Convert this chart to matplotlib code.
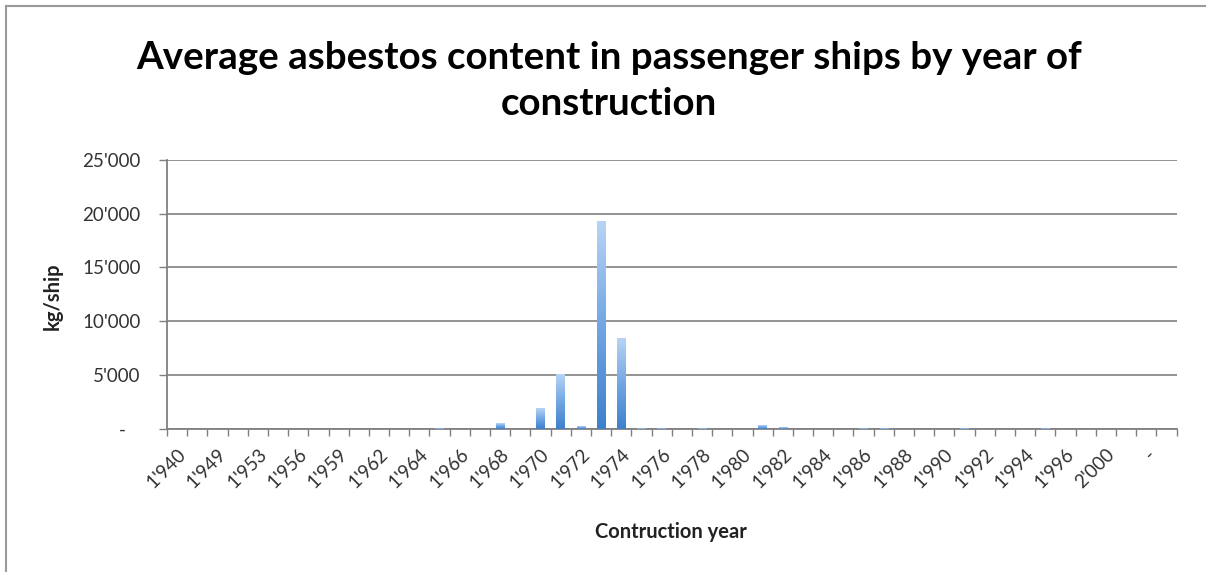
import numpy as np
import matplotlib
matplotlib.use("Agg")
import matplotlib.pyplot as plt
from matplotlib.colors import LinearSegmentedColormap
from matplotlib.lines import Line2D
from matplotlib.ticker import FuncFormatter, MultipleLocator

# Construction years (None = year unknown, shown as "-")
years = [1940, 1948, 1949, 1951, 1953, 1955, 1956, 1957, 1959, 1960, 1962, 1963,
         1964, 1965, 1966, 1967, 1968, 1969, 1970, 1971, 1972, 1973, 1974, 1975,
         1976, 1977, 1978, 1979, 1980, 1981, 1982, 1983, 1984, 1985, 1986, 1987,
         1988, 1989, 1990, 1991, 1992, 1993, 1994, 1995, 1996, 1998, 2000, 2002,
         None, ""]

# Average asbestos content, kg per ship
kg_per_ship = [0, 0, 0, 0, 0, 0, 0, 0, 0, 0, 0, 0,
               0, 50, 0, 0, 500, 0, 1900, 5050, 250, 19300, 8400, 50,
               80, 0, 60, 0, 0, 300, 100, 0, 0, 0, 80, 60,
               0, 0, 0, 70, 0, 0, 0, 60, 0, 0, 0, 0,
               0, 0]

title = "Average asbestos content in passenger ships by year of\nconstruction"
y_label = "kg/ship"
x_label = "Contruction year"


def thousands(v):
    if v is None:
        return "-"
    if v == "":
        return ""
    if v == 0:
        return "-   "
    return f"{int(v):,}".replace(",", "'")


W, H = 1206, 572
fig = plt.figure(figsize=(W / 100, H / 100), dpi=100)
font = ["Lato", "DejaVu Sans"]
plt.rcParams["font.family"] = font

ax = fig.add_axes([167 / W, 1 - 428.5 / H, (1176.5 - 167) / W, (428.5 - 160) / H])

n = len(years)
x = np.arange(n)
bars = ax.bar(x, kg_per_ship, width=0.42, color="none", edgecolor="none", zorder=3)

# vertical gradient fill for each bar: light top, deeper blue at the base
cmap = LinearSegmentedColormap.from_list("bar_grad", ["#3d80cc", "#72a6e3", "#b8d4f5"])
grad = np.linspace(0, 1, 256).reshape(-1, 1)
for b in bars:
    h = b.get_height()
    if h <= 0:
        continue
    x0 = b.get_x()
    im = ax.imshow(grad, extent=[x0, x0 + b.get_width(), 0, h], origin="lower",
                   aspect="auto", cmap=cmap, zorder=3, interpolation="bilinear")
    im.set_clip_path(b)

ax.set_xlim(-0.5, n - 0.5)
ax.set_ylim(0, 25000)
ax.set_aspect("auto")

# y axis
ax.yaxis.set_major_locator(MultipleLocator(5000))
ax.yaxis.set_major_formatter(FuncFormatter(lambda v, p: thousands(v)))
ax.grid(axis="y", color="#808080", linewidth=1.2, zorder=1)
ax.tick_params(axis="y", length=6, width=1, color="#808080", pad=13,
               labelsize=13.5, labelcolor="#333333")

# x axis: ticks between categories, labels on every second category
ax.set_xticks(x[::2])
ax.set_xticklabels([thousands(v) for v in years[::2]], rotation=45,
                   ha="right", va="top", rotation_mode="anchor")
ax.set_xticks(np.arange(-0.5, n, 1.0), minor=True)
ax.tick_params(axis="x", which="major", length=0, pad=12, labelsize=13.5,
               labelcolor="#333333")
ax.tick_params(axis="x", which="minor", length=5, width=1, color="#808080")

for s in ("top", "right"):
    ax.spines[s].set_visible(False)
for s in ("left", "bottom"):
    ax.spines[s].set_color("#808080")
    ax.spines[s].set_linewidth(1.3)

fig.text(609 / W, 1 - 41 / H, title, ha="center", va="top", fontsize=27.7,
         fontweight="bold", linespacing=1.43, color="#000000")
fig.text(53 / W, 1 - 296 / H, y_label, rotation=90, ha="center", va="center",
         fontsize=14.5, fontweight="bold", color="#222222")
fig.text(671 / W, 1 - 532 / H, x_label, ha="center", va="center",
         fontsize=14.5, fontweight="bold", color="#222222")

# chart frame
fig.add_artist(Line2D([5.5 / W, 1], [1 - 5.5 / H, 1 - 5.5 / H], color="#9a9a9a", lw=1.5))
fig.add_artist(Line2D([5.5 / W, 5.5 / W], [0, 1 - 5.5 / H], color="#9a9a9a", lw=1.5))

fig.savefig("out.png", dpi=100, facecolor="white")
